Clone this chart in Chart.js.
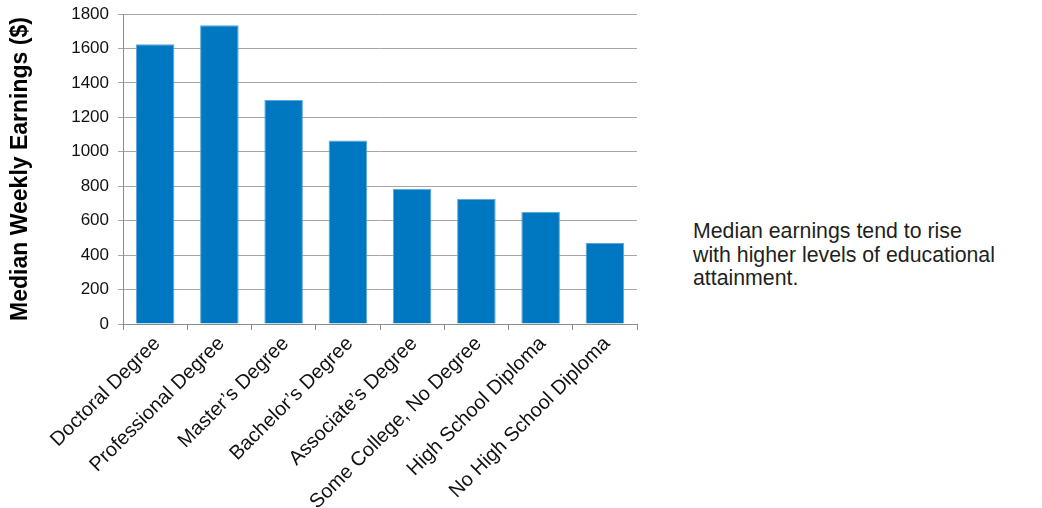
<!DOCTYPE html>
<html>
<head>
<meta charset="utf-8">
<script src="https://cdn.jsdelivr.net/npm/chart.js@4/dist/chart.umd.min.js"></script>
<style>
    body { margin: 0; background: #fff; width: 1042px; height: 508px; overflow: hidden; }
    #wrap { position: absolute; left: 0; top: 0; width: 660px; height: 508px; }
    #note {
        position: absolute; left: 693px; top: 220px; width: 360px;
        font-family: "Liberation Sans", Arial, sans-serif; font-size: 21.3px;
        line-height: 23.5px; color: #231f20;
    }
</style>
</head>
<body>
<div id="wrap"><canvas id="chart" width="660" height="508"></canvas></div>
<div id="note">Median earnings tend to rise<br>with higher levels of educational<br>attainment.</div>
<script>
// chart data
const categories = [
    'Doctoral Degree', 'Professional Degree', 'Master\u2019s Degree', 'Bachelor\u2019s Degree',
    'Associate\u2019s Degree', 'Some College, No Degree', 'High School Diploma', 'No High School Diploma'
];
const earnings = [1624, 1735, 1300, 1066, 785, 727, 652, 471];
const yTicks = [0, 200, 400, 600, 800, 1000, 1200, 1400, 1600, 1800];
const yTitle = 'Median Weekly Earnings ($)';

const font = 'Liberation Sans, Arial, sans-serif';

const ctx = document.getElementById('chart').getContext('2d');
new Chart(ctx, {
    type: 'bar',
    data: {
        labels: categories,
        datasets: [{
            data: earnings,
            backgroundColor: '#0077c1',
            borderColor: '#5aa6dc',
            borderWidth: { top: 1, left: 1, right: 1, bottom: 0 },
            barPercentage: 0.6,
            categoryPercentage: 1.0
        }]
    },
    options: {
        responsive: false,
        animation: false,
        devicePixelRatio: 1,
        layout: { padding: { top: 14, right: 23, left: 0, bottom: 0 } },
        plugins: { legend: { display: false }, tooltip: { enabled: false } },
        scales: {
            x: {
                offset: true,
                grid: { display: true, drawOnChartArea: false, tickLength: 6, color: '#8c8c8c', offset: true },
                border: { color: '#8c8c8c' },
                ticks: {
                    minRotation: 45, maxRotation: 45, autoSkip: false,
                    color: '#111', font: { family: font, size: 20 }, padding: 2, labelOffset: 2
                },
                afterFit: (s) => { s.height = 184; }
            },
            y: {
                min: 0, max: 1800,
                afterBuildTicks: (s) => { s.ticks = yTicks.map(v => ({ value: v })); },
                grid: { color: '#a6a6a6', tickLength: 5 },
                border: { color: '#8c8c8c' },
                ticks: {
                    color: '#111', font: { family: font, size: 17 }, padding: 9,
                    callback: (v) => String(v)
                },
                title: {
                    display: true, text: yTitle, color: '#000',
                    font: { family: font, size: 23, weight: 'bold' }, padding: { top: 7, bottom: 0 }
                },
                afterFit: (s) => { s.width = 123; s.paddingTop = 0; s.paddingBottom = 0; }
            }
        }
    }
});
</script>
</body>
</html>
